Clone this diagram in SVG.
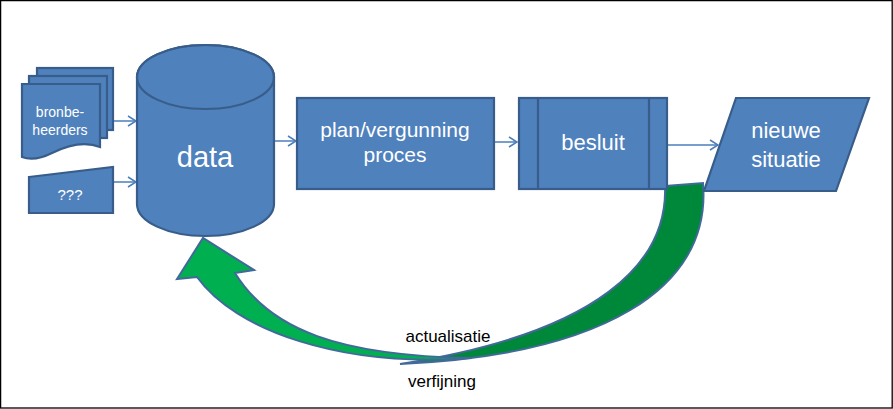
<svg xmlns="http://www.w3.org/2000/svg" width="893" height="409" viewBox="0 0 893 409">
<style>
.shape{fill:#4F81BD;stroke:#385D8A;stroke-width:2.2;stroke-linejoin:miter}
.inner{fill:none;stroke:#385D8A;stroke-width:2.2}
.lbl{font-family:"Liberation Sans",Arial,sans-serif;fill:#FFFFFF;text-anchor:middle}
.cap{font-family:"Liberation Sans",Arial,sans-serif;fill:#000000;text-anchor:middle;font-size:17px}
.conn{fill:none;stroke:#4A7EBB;stroke-width:1.5}
</style>
<defs>
<marker id="arr" markerWidth="10" markerHeight="12" refX="9" refY="6" orient="auto" markerUnits="userSpaceOnUse">
<path d="M1,1 L9,6 L1,11" fill="none" stroke="#4A7EBB" stroke-width="1.5"/>
</marker>
</defs>
<rect x="0.6" y="0.6" width="891.6" height="407.4" fill="#FFFFFF" stroke="#000000" stroke-width="1.3"/>

<g id="connectors">
<line class="conn" x1="113" y1="121" x2="136" y2="121" marker-end="url(#arr)"/>
<line class="conn" x1="113" y1="182" x2="136" y2="182" marker-end="url(#arr)"/>
<line class="conn" x1="274" y1="141" x2="296" y2="141" marker-end="url(#arr)"/>
<line class="conn" x1="494" y1="142" x2="517" y2="142" marker-end="url(#arr)"/>
<line class="conn" x1="667" y1="145" x2="718" y2="145" marker-end="url(#arr)"/>
</g>

<g id="feedback-arrow">
<path d="M665,186 L703,183 C712,290 600,355 400,364 C600,333 668,262 665,186 Z" fill="#00883A" stroke="#41699A" stroke-width="2"/>
<path d="M472,358 C340,368 235,330 197,277 L177,279 L203,238 L254,270 L235,273 C270,330 340,356 472,358 Z" fill="#00B050" stroke="#41699A" stroke-width="2" stroke-linejoin="miter"/>
</g>

<g id="bronbeheerders">
<rect class="shape" x="37" y="68" width="76" height="62"/>
<rect class="shape" x="29" y="76" width="78" height="62"/>
<path class="shape" d="M22,84 H100 V147 C85,141 68,145 52,153 C40,159 30,160 22,157 Z"/>
<text class="lbl" x="60" y="117" font-size="14">bronbe-</text>
<text class="lbl" x="60" y="135" font-size="14">heerders</text>
</g>

<g id="onbekend">
<path class="shape" d="M29,177 L113,167 L113,213 L29,213 Z"/>
<text class="lbl" x="70" y="200" font-size="15">???</text>
</g>

<g id="data">
<path class="shape" d="M137,77 V204 A68.5,32 0 0 0 274,204 V77 A68.5,32 0 0 0 137,77 Z"/>
<ellipse class="inner" cx="205.5" cy="77" rx="68.5" ry="32"/>
<text class="lbl" x="205" y="167" font-size="29">data</text>
</g>

<g id="proces">
<rect class="shape" x="297" y="98" width="197" height="91"/>
<text class="lbl" x="395" y="137" font-size="21">plan/vergunning</text>
<text class="lbl" x="395" y="162" font-size="21">proces</text>
</g>

<g id="besluit">
<rect class="shape" x="519" y="98" width="148" height="91"/>
<line class="inner" x1="538" y1="98" x2="538" y2="189"/>
<line class="inner" x1="649" y1="98" x2="649" y2="189"/>
<text class="lbl" x="593" y="150" font-size="22">besluit</text>
</g>

<g id="nieuwe-situatie">
<path class="shape" d="M736,98 L869,98 L836,191 L704,191 Z"/>
<text class="lbl" x="786" y="138" font-size="22">nieuwe</text>
<text class="lbl" x="786" y="167" font-size="22">situatie</text>
</g>

<g id="labels">
<text class="cap" x="448" y="342">actualisatie</text>
<text class="cap" x="442" y="387">verfijning</text>
</g>
</svg>
